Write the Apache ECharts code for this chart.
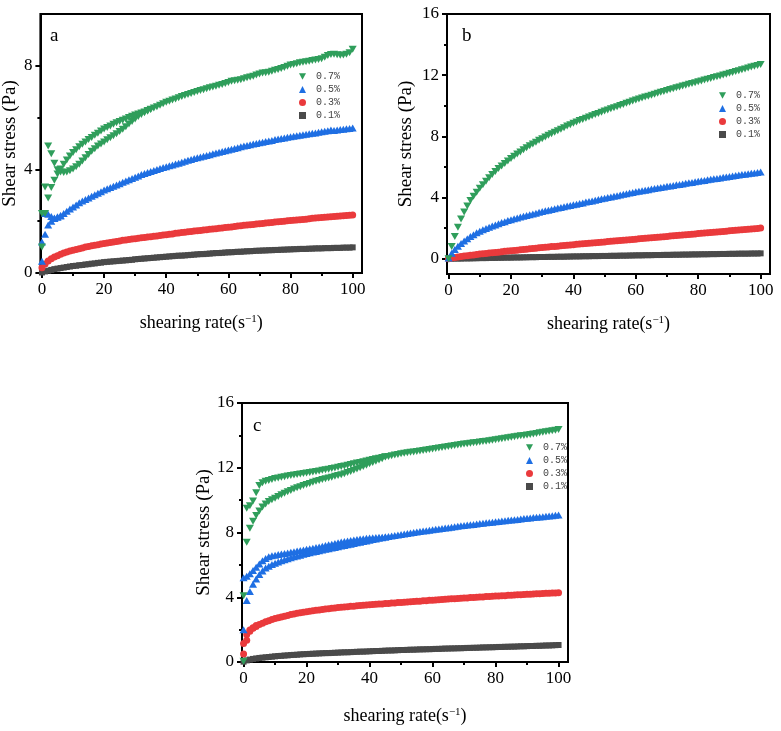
<!DOCTYPE html>
<html>
<head>
<meta charset="utf-8" />
<title>Shear stress vs shearing rate</title>
<script src="https://cdn.jsdelivr.net/npm/echarts@6/dist/echarts.min.js"></script>
<style type="text/css">
html, body { margin: 0; padding: 0; background: #fff; }
#main { width: 781px; height: 731px; }
</style>
</head>
<body>
<div id="main"></div>
<script type="text/javascript">
var myChart = echarts.init(document.getElementById("main"));

// shearing rate (s^-1), shared by every curve
var rate = [0,1,2,3,4,5,6,7,8,9,10,11,12,13,14,15,16,17,18,19,20,21,22,23,24,25,26,27,28,29,
	30,31,32,33,34,35,36,37,38,39,40,41,42,43,44,45,46,47,48,49,50,51,52,53,54,55,56,57,58,59,
	60,61,62,63,64,65,66,67,68,69,70,71,72,73,74,75,76,77,78,79,80,81,82,83,84,85,86,87,88,89,
	90,91,92,93,94,95,96,97,98,99,100];

var names = ["0.7%", "0.5%", "0.3%", "0.1%"];
var xMajor = [0, 20, 40, 60, 80, 100];
var xMinor = [10, 30, 50, 70, 90];
var yMajorA = [0, 4, 8];
var yMinorA = [2, 6];
var yMajor = [0, 4, 8, 12, 16];
var yMinor = [2, 6, 10, 14];

// ---- panel a ----
var a07 = [1.0,2.3,4.9,4.6,4.24,3.99,3.9,3.88,3.9,3.95,
	4.02,4.1,4.2,4.32,4.45,4.58,4.7,4.8,4.9,4.98,
	5.06,5.14,5.22,5.3,5.38,5.46,5.55,5.65,5.75,5.85,
	5.95,6.04,6.12,6.19,6.25,6.31,6.37,6.42,6.48,6.53,
	6.59,6.63,6.68,6.72,6.77,6.81,6.85,6.89,6.93,6.97,
	7.01,7.05,7.08,7.11,7.15,7.18,7.21,7.25,7.28,7.32,
	7.36,7.4,7.42,7.44,7.46,7.5,7.54,7.57,7.6,7.64,
	7.68,7.72,7.73,7.75,7.79,7.83,7.86,7.9,7.93,7.98,
	8.03,8.05,8.08,8.12,8.14,8.16,8.18,8.2,8.22,8.24,
	8.27,8.33,8.4,8.44,8.45,8.43,8.41,8.42,8.45,8.5,
	8.64];
var a07back = [2.3,3.32,2.9,3.3,3.58,3.82,4.02,4.2,4.36,4.52,
	4.65,4.76,4.87,4.97,5.06,5.15,5.23,5.32,5.4,5.48,
	5.56,5.62,5.68,5.74,5.8,5.85,5.9,5.95,6.0,6.05,
	6.1,6.14,6.18,6.22,6.27,6.32];
var a05 = [0.45,1.5,1.85,2.0,2.1,2.17,2.22,2.3,2.38,2.47,
	2.55,2.63,2.71,2.78,2.84,2.9,2.96,3.02,3.08,3.14,
	3.2,3.25,3.3,3.35,3.4,3.45,3.5,3.55,3.6,3.65,
	3.7,3.75,3.8,3.84,3.88,3.92,3.96,4.0,4.03,4.07,
	4.1,4.14,4.17,4.21,4.24,4.28,4.31,4.35,4.38,4.42,
	4.45,4.48,4.51,4.54,4.57,4.6,4.63,4.66,4.69,4.72,
	4.75,4.78,4.81,4.84,4.87,4.9,4.92,4.95,4.98,5.0,
	5.03,5.05,5.08,5.1,5.12,5.15,5.17,5.19,5.21,5.24,
	5.26,5.28,5.3,5.32,5.34,5.36,5.38,5.4,5.41,5.43,
	5.45,5.47,5.49,5.52,5.5,5.52,5.54,5.55,5.57,5.58,
	5.6];
var a05back = [1.2,2.3,2.27,2.18,2.12,2.15,2.2];
var a03 = [0.2,0.35,0.46,0.55,0.62,0.67,0.72,0.77,0.81,0.85,
	0.88,0.91,0.94,0.97,1.0,1.02,1.05,1.07,1.09,1.12,
	1.14,1.16,1.18,1.2,1.22,1.24,1.26,1.27,1.29,1.31,
	1.32,1.34,1.36,1.37,1.39,1.4,1.42,1.43,1.45,1.47,
	1.48,1.5,1.51,1.53,1.54,1.56,1.57,1.59,1.6,1.62,
	1.63,1.64,1.66,1.67,1.69,1.7,1.71,1.73,1.74,1.76,
	1.77,1.78,1.8,1.81,1.82,1.84,1.85,1.86,1.87,1.89,
	1.9,1.91,1.93,1.94,1.95,1.97,1.98,1.99,2.0,2.02,
	2.03,2.04,2.05,2.06,2.07,2.08,2.09,2.11,2.12,2.13,
	2.14,2.15,2.16,2.17,2.18,2.19,2.2,2.21,2.22,2.23,
	2.24];
var a01 = [0.02,0.06,0.09,0.12,0.15,0.17,0.19,0.21,0.23,0.25,
	0.27,0.28,0.3,0.31,0.33,0.34,0.36,0.37,0.39,0.4,
	0.42,0.43,0.44,0.45,0.46,0.47,0.48,0.49,0.5,0.51,
	0.53,0.54,0.55,0.56,0.57,0.58,0.59,0.6,0.61,0.62,
	0.63,0.64,0.65,0.66,0.67,0.67,0.68,0.69,0.7,0.71,
	0.72,0.73,0.73,0.74,0.75,0.76,0.77,0.77,0.78,0.79,
	0.8,0.8,0.81,0.82,0.82,0.83,0.84,0.84,0.85,0.86,
	0.86,0.87,0.87,0.88,0.88,0.89,0.89,0.9,0.9,0.91,
	0.91,0.92,0.92,0.93,0.93,0.93,0.94,0.94,0.95,0.95,
	0.95,0.96,0.96,0.96,0.97,0.97,0.97,0.98,0.98,0.98,
	0.99];

// ---- panel b ----
var b07 = [0,0.8,1.45,2.05,2.6,3.05,3.45,3.8,4.08,4.34,
	4.6,4.84,5.07,5.29,5.5,5.7,5.89,6.06,6.23,6.39,
	6.55,6.7,6.84,6.98,7.12,7.25,7.38,7.5,7.62,7.74,
	7.85,7.96,8.07,8.17,8.27,8.37,8.47,8.57,8.67,8.76,
	8.85,8.94,9.03,9.11,9.19,9.27,9.35,9.43,9.5,9.58,
	9.65,9.72,9.8,9.87,9.94,10.01,10.09,10.16,10.23,10.31,
	10.38,10.44,10.5,10.57,10.63,10.69,10.75,10.82,10.88,10.94,
	11.0,11.06,11.11,11.17,11.23,11.29,11.34,11.4,11.46,11.51,
	11.57,11.62,11.68,11.73,11.79,11.84,11.9,11.95,12.01,12.06,
	12.12,12.18,12.24,12.29,12.35,12.41,12.47,12.53,12.58,12.64,
	12.7];
var b05 = [0.05,0.35,0.6,0.82,1.0,1.16,1.31,1.45,1.57,1.69,
	1.8,1.89,1.98,2.06,2.14,2.21,2.29,2.36,2.42,2.49,
	2.55,2.61,2.66,2.72,2.77,2.83,2.88,2.93,2.98,3.03,
	3.08,3.13,3.17,3.22,3.26,3.31,3.35,3.39,3.44,3.48,
	3.52,3.56,3.61,3.65,3.7,3.74,3.78,3.83,3.87,3.92,
	3.96,4.0,4.04,4.08,4.12,4.17,4.21,4.25,4.29,4.33,
	4.37,4.41,4.44,4.48,4.51,4.55,4.59,4.62,4.66,4.69,
	4.73,4.76,4.79,4.83,4.86,4.89,4.93,4.96,4.99,5.03,
	5.06,5.09,5.12,5.16,5.19,5.22,5.25,5.28,5.32,5.35,
	5.38,5.41,5.44,5.47,5.5,5.53,5.55,5.58,5.61,5.64,
	5.67];
var b03 = [0,0.05,0.08,0.11,0.14,0.17,0.19,0.22,0.25,0.27,
	0.3,0.32,0.34,0.37,0.39,0.41,0.43,0.45,0.48,0.5,
	0.52,0.54,0.56,0.58,0.6,0.62,0.65,0.67,0.69,0.71,
	0.73,0.75,0.77,0.79,0.8,0.82,0.84,0.86,0.88,0.9,
	0.92,0.94,0.96,0.97,0.99,1.01,1.03,1.05,1.06,1.08,
	1.1,1.12,1.14,1.15,1.17,1.19,1.21,1.23,1.24,1.26,
	1.28,1.3,1.32,1.33,1.35,1.37,1.39,1.41,1.42,1.44,
	1.46,1.48,1.5,1.51,1.53,1.55,1.57,1.59,1.6,1.62,
	1.64,1.66,1.68,1.69,1.71,1.73,1.75,1.77,1.78,1.8,
	1.82,1.84,1.86,1.87,1.89,1.91,1.93,1.95,1.96,1.98,
	2.0];
var b01 = [0,0,0.01,0.01,0.01,0.02,0.02,0.02,0.03,0.03,
	0.04,0.04,0.04,0.05,0.05,0.05,0.06,0.06,0.07,0.07,
	0.07,0.08,0.08,0.08,0.09,0.09,0.1,0.1,0.1,0.11,
	0.11,0.11,0.12,0.12,0.12,0.13,0.13,0.13,0.14,0.14,
	0.15,0.15,0.15,0.16,0.16,0.16,0.17,0.17,0.17,0.18,
	0.18,0.18,0.19,0.19,0.19,0.2,0.2,0.2,0.21,0.21,
	0.22,0.22,0.22,0.23,0.23,0.23,0.24,0.24,0.24,0.25,
	0.25,0.25,0.26,0.26,0.26,0.27,0.27,0.27,0.28,0.28,
	0.28,0.29,0.29,0.29,0.3,0.3,0.3,0.31,0.31,0.31,
	0.32,0.32,0.32,0.33,0.33,0.33,0.33,0.34,0.34,0.34,
	0.35];

// ---- panel c ----
var c07 = [0.05,7.4,8.26,8.7,9.05,9.33,9.57,9.76,9.91,10.02,
	10.12,10.23,10.33,10.42,10.51,10.6,10.68,10.76,10.83,10.9,
	10.97,11.03,11.1,11.16,11.22,11.27,11.32,11.37,11.42,11.47,
	11.52,11.57,11.63,11.7,11.77,11.84,11.92,12.0,12.08,12.16,
	12.24,12.32,12.4,12.48,12.56,12.66,12.7,12.74,12.78,12.82,
	12.86,12.89,12.92,12.95,12.98,13.01,13.04,13.07,13.1,13.13,
	13.16,13.19,13.22,13.25,13.28,13.31,13.34,13.37,13.4,13.43,
	13.46,13.48,13.51,13.54,13.56,13.59,13.62,13.64,13.67,13.7,
	13.73,13.76,13.79,13.82,13.85,13.88,13.91,13.94,13.97,14.0,
	14.03,14.06,14.09,14.12,14.16,14.19,14.22,14.25,14.28,14.32,
	14.37];
var c07back = [4.1,9.5,9.65,9.95,10.45,10.9,11.08,11.16,11.22,11.28,
	11.33,11.37,11.41,11.45,11.49,11.52,11.55,11.58,11.62,11.65,
	11.68,11.71,11.74,11.77,11.8,11.84,11.87,11.91,11.95,11.99,
	12.03,12.07,12.11,12.15,12.2,12.25,12.29,12.33,12.37,12.42,
	12.47,12.51,12.55,12.59,12.63,12.68];
var c05 = [2.0,3.8,4.35,4.8,5.12,5.4,5.62,5.8,5.92,6.02,
	6.1,6.18,6.25,6.32,6.38,6.44,6.5,6.55,6.6,6.65,
	6.7,6.75,6.79,6.83,6.88,6.92,6.96,7.0,7.04,7.08,
	7.12,7.16,7.2,7.24,7.28,7.32,7.36,7.4,7.44,7.48,
	7.52,7.56,7.6,7.64,7.68,7.72,7.75,7.78,7.82,7.85,
	7.88,7.91,7.94,7.97,8.0,8.03,8.06,8.09,8.11,8.14,
	8.17,8.2,8.22,8.25,8.28,8.3,8.33,8.36,8.38,8.41,
	8.43,8.46,8.48,8.5,8.53,8.55,8.57,8.6,8.62,8.64,
	8.66,8.68,8.71,8.73,8.75,8.77,8.79,8.81,8.84,8.86,
	8.88,8.9,8.92,8.94,8.96,8.98,9.0,9.02,9.04,9.06,
	9.08];
var c05back = [5.2,5.3,5.45,5.65,5.85,6.05,6.25,6.4,6.5,6.56,
	6.6,6.64,6.67,6.71,6.74,6.78,6.81,6.85,6.89,6.92,
	6.96,6.99,7.03,7.07,7.11,7.15,7.19,7.24,7.28,7.32,
	7.37,7.41,7.44,7.47,7.51,7.54,7.57,7.6,7.62,7.64,
	7.66,7.68,7.69,7.7,7.71,7.72];
var c03 = [0.5,1.35,1.9,2.08,2.2,2.32,2.4,2.48,2.55,2.62,
	2.68,2.73,2.78,2.83,2.88,2.93,2.97,3.01,3.04,3.07,
	3.1,3.13,3.16,3.19,3.22,3.25,3.27,3.29,3.32,3.34,
	3.36,3.38,3.4,3.42,3.44,3.45,3.47,3.49,3.5,3.52,
	3.53,3.55,3.56,3.58,3.59,3.61,3.62,3.64,3.65,3.67,
	3.68,3.69,3.71,3.72,3.74,3.75,3.76,3.78,3.79,3.81,
	3.82,3.83,3.85,3.86,3.88,3.89,3.9,3.91,3.93,3.94,
	3.95,3.96,3.98,3.99,4.0,4.01,4.02,4.04,4.05,4.06,
	4.07,4.08,4.09,4.1,4.12,4.13,4.14,4.15,4.16,4.17,
	4.18,4.19,4.2,4.21,4.22,4.23,4.24,4.25,4.26,4.27,
	4.28];
var c03back = [1.15,1.7,1.98,2.12,2.25];
var c01 = [0.02,0.1,0.15,0.19,0.22,0.25,0.27,0.29,0.31,0.33,
	0.35,0.37,0.38,0.4,0.41,0.43,0.44,0.45,0.47,0.48,
	0.49,0.5,0.51,0.52,0.53,0.54,0.55,0.55,0.56,0.57,
	0.58,0.59,0.6,0.6,0.61,0.62,0.63,0.64,0.64,0.65,
	0.66,0.67,0.68,0.68,0.69,0.7,0.71,0.71,0.72,0.73,
	0.74,0.74,0.75,0.76,0.76,0.77,0.78,0.78,0.79,0.79,
	0.8,0.81,0.81,0.82,0.83,0.83,0.84,0.84,0.85,0.85,
	0.86,0.87,0.87,0.88,0.88,0.89,0.9,0.9,0.91,0.91,
	0.92,0.93,0.93,0.94,0.94,0.95,0.95,0.96,0.97,0.97,
	0.98,0.99,0.99,1.0,1.0,1.01,1.02,1.02,1.03,1.04,
	1.05];

var serif = "Liberation Serif";
// marker look per concentration (same order as names); 0.7% is a down-pointing triangle
var looks = [
	{ symbol: "path://M0,0L10,0L5,9Z", size: [8, 7], color: "#2f9e5b" },
	{ symbol: "triangle", size: [8, 7], color: "#1f6fe3" },
	{ symbol: "circle", size: 7, color: "#ea3a3c" },
	{ symbol: "rect", size: 6, color: "#4a4a4a" }
];

var panels = [
	{ tag: "a", grid: { left: 37, top: 14, width: 325, height: 259 }, ymin: 0, ymax: 10,
	  yLab: yMajorA, yMin: yMinorA, yGap: 19, xGap: 41, letter: [50, 27], leg: [299, 71],
	  curves: [[a07, a07back], [a05, a05back], [a03], [a01]] },
	{ tag: "b", grid: { left: 447, top: 14, width: 323, height: 260 }, ymin: -1, ymax: 16,
	  yLab: yMajor, yMin: yMinor, yGap: 31, xGap: 41, letter: [462, 27], leg: [719, 90],
	  curves: [[b07], [b05], [b03], [b01]] },
	{ tag: "c", grid: { left: 242, top: 403, width: 326, height: 259 }, ymin: 0, ymax: 16,
	  yLab: yMajor, yMin: yMinor, yGap: 26, xGap: 45, letter: [253, 417], leg: [526, 442],
	  curves: [[c07, c07back], [c05, c05back], [c03, c03back], [c01]] }
];

function pts(ys) {
	return ys.map(function (v, i) { return [rate[i], v]; });
}

var tickStyle = { color: "#000", width: 2 };
var option = {
	animation: false,
	backgroundColor: "#fff",
	title: [], legend: [], grid: [], xAxis: [], yAxis: [], series: []
};

panels.forEach(function (p, i) {
	option.grid.push(Object.assign({ show: true, borderColor: "#000", borderWidth: 2 }, p.grid));
	option.title.push({
		text: p.tag, left: p.letter[0], top: p.letter[1], padding: 0,
		textStyle: { fontFamily: serif, fontSize: 19, fontWeight: "normal", color: "#000" }
	});
	option.legend.push({
		data: names, orient: "vertical", left: p.leg[0], top: p.leg[1], padding: 0,
		itemWidth: 7, itemHeight: 7, itemGap: 2, selectedMode: false,
		textStyle: { fontFamily: "Liberation Mono", fontSize: 10, lineHeight: 11, color: "#444", padding: [0, 0, 0, 5] }
	});
	// main x axis + one for the minor ticks
	option.xAxis.push({
		gridIndex: i, type: "value", position: "bottom", min: -0.5, max: 103,
		name: "shearing rate(s{sup|\u22121})", nameLocation: "middle", nameGap: p.xGap,
		nameTextStyle: { fontFamily: serif, fontSize: 18, color: "#000",
			rich: { sup: { fontFamily: serif, fontSize: 11, verticalAlign: "top", color: "#000" } } },
		axisLine: { onZero: false, lineStyle: { color: "#000", width: 2 } },
		axisTick: { customValues: xMajor, length: 5, lineStyle: tickStyle },
		axisLabel: { customValues: xMajor, margin: 8, fontFamily: serif, fontSize: 17, color: "#000" },
		splitLine: { show: false }
	});
	option.xAxis.push({
		gridIndex: i, type: "value", position: "bottom", min: -0.5, max: 103,
		axisLine: { show: false, onZero: false },
		axisTick: { customValues: xMinor, length: 3, lineStyle: tickStyle },
		axisLabel: { show: false }, splitLine: { show: false }
	});
	option.yAxis.push({
		gridIndex: i, type: "value", position: "left", min: p.ymin, max: p.ymax,
		name: "Shear stress (Pa)", nameLocation: "middle", nameGap: p.yGap,
		nameTextStyle: { fontFamily: serif, fontSize: 19, color: "#000" },
		axisLine: { onZero: false, lineStyle: { color: "#000", width: 2 } },
		axisTick: { customValues: p.yLab, length: 5, lineStyle: tickStyle },
		axisLabel: { customValues: p.yLab, margin: 8, fontFamily: serif, fontSize: 17, color: "#000" },
		splitLine: { show: false }
	});
	option.yAxis.push({
		gridIndex: i, type: "value", position: "left", min: p.ymin, max: p.ymax,
		axisLine: { show: false, onZero: false },
		axisTick: { customValues: p.yMin, length: 3, lineStyle: tickStyle },
		axisLabel: { show: false }, splitLine: { show: false }
	});
	// draw 0.1% first so 0.7% sits on top
	for (var j = names.length - 1; j >= 0; j--) {
		var data = [];
		p.curves[j].forEach(function (branch) { data = data.concat(pts(branch)); });
		option.series.push({
			type: "scatter", name: names[j], xAxisIndex: 2 * i, yAxisIndex: 2 * i,
			symbol: looks[j].symbol, symbolSize: looks[j].size,
			itemStyle: { color: looks[j].color, opacity: 1 },
			clip: false, data: data
		});
	}
});

myChart.setOption(option);
</script>
</body>
</html>
